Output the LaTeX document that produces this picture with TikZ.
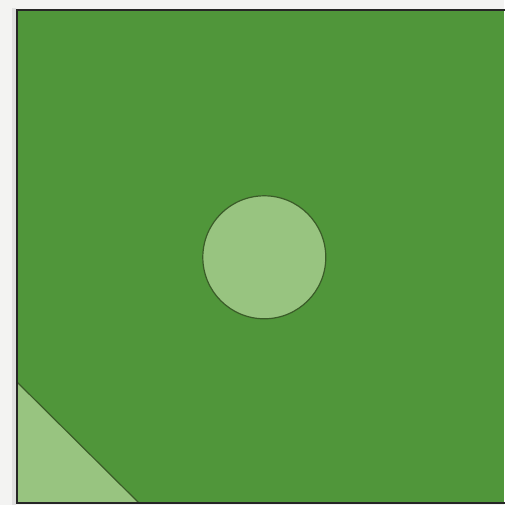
\documentclass[tikz,border=0pt]{standalone}
\usepackage{tikz}
\usetikzlibrary{calc}
\definecolor{paper}{RGB}{243,243,242}
\definecolor{grass}{RGB}{80,150,58}
\definecolor{lightgrass}{RGB}{152,196,128}
\definecolor{edgegreen}{RGB}{58,92,40}
\definecolor{frame}{RGB}{38,38,38}

\begin{document}
\begin{tikzpicture}[x=1pt, y=-1pt]
  \useasboundingbox (0,0) rectangle (504,505);
  \fill[paper] (0,0) rectangle (504,505);
  % soft shadow beside the field
  \fill[black!12] (12,8) rectangle (16,505);
  % the field
  \fill[grass] (17,10) rectangle (504,503);
  % centre circle
  \draw[edgegreen, fill=lightgrass, line width=1.2pt] (264.3,257.3) circle (61.5);
  % corner piece
  \draw[edgegreen, fill=lightgrass, line width=1.2pt] (17,382) -- (139,503) -- (17,503);
  % frame
  \draw[frame, line width=2.6pt] (506,10) -- (17,10) -- (17,503) -- (506,503);
\end{tikzpicture}
\end{document}
